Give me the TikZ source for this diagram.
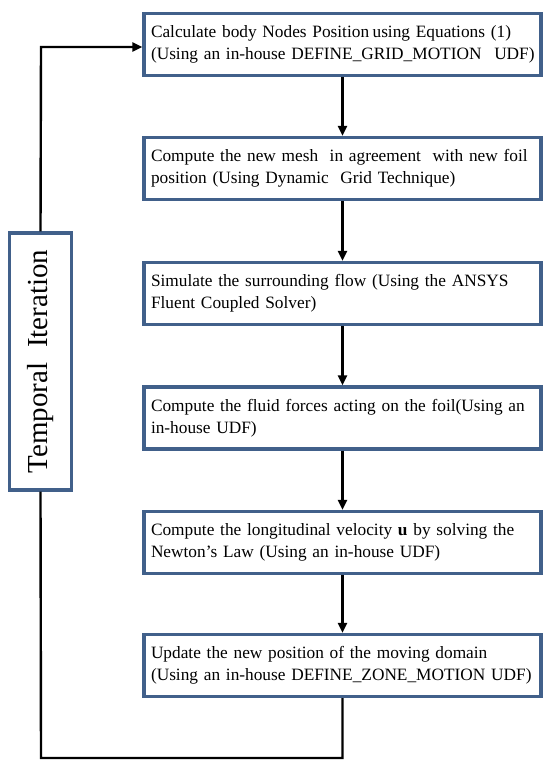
\documentclass[tikz,border=0pt]{standalone}
\usepackage{fontspec}
\setmainfont{Liberation Serif}
\usetikzlibrary{arrows.meta}
\definecolor{boxblue}{HTML}{41608A}
\newcommand{\twolines}[2]{\mbox{#1}\\\mbox{#2}}
\begin{document}
\begin{tikzpicture}[x=1pt,y=-1pt,
  stepbox/.style={draw=boxblue, line width=3.2pt, minimum width=397pt, minimum height=62pt,
    text width=383pt, align=left, inner xsep=7pt, font=\fontsize{17.3}{22}\selectfont},
  iterbox/.style={draw=boxblue, line width=3.2pt, minimum width=257pt, minimum height=62pt,
    rotate=90, font=\fontsize{29}{34}\selectfont},
  conn/.style={line width=2.4pt, -{Triangle[length=10pt,width=9pt]}},
  plain/.style={line width=2.4pt}]
\useasboundingbox (0,0) rectangle (550,770);
\fill[white] (0,0) rectangle (550,770);
\node[stepbox] (b1) at (342.5,44.5) {\twolines{Calculate body Nodes Position\hspace{0.2em}using Equations (1)}{(Using an in-house DEFINE\_GRID\_MOTION\hspace{0.4em} UDF)}};
\node[stepbox] (b2) at (342.5,168.5) {\twolines{Compute the new mesh\ \ in agreement\ \ with new foil}{position (Using Dynamic\ \ Grid Technique)}};
\node[stepbox] (b3) at (342.5,293.5) {\twolines{Simulate the surrounding flow (Using the ANSYS}{Fluent Coupled Solver)}};
\node[stepbox] (b4) at (342.5,418) {\twolines{Compute the fluid forces acting on the foil(Using an}{in-house UDF)}};
\node[stepbox] (b5) at (342.5,542.5) {\twolines{Compute the longitudinal velocity \textbf{u} by solving the}{Newton's Law (Using an in-house UDF)}};
\node[stepbox] (b6) at (342.5,665.5) {\twolines{Update the new position of the moving domain}{(Using an in-house DEFINE\_ZONE\_MOTION UDF)}};
\node[iterbox] (it) at (40.5,361.5) {Temporal\ \ Iteration};
\coordinate (c1) at (342.5,758);
\coordinate (c2) at (41,758);
\coordinate (c3) at (41,47);
\draw[conn] (b1) -- (b2);
\draw[conn] (b2) -- (b3);
\draw[conn] (b3) -- (b4);
\draw[conn] (b4) -- (b5);
\draw[conn] (b5) -- (b6);
\draw[plain] (b6.south) -- (c1) -- (c2) -- (it.west);
\draw[conn] (it.east) -- (c3) -- (c3 -| b1.west);
\end{tikzpicture}
\end{document}
